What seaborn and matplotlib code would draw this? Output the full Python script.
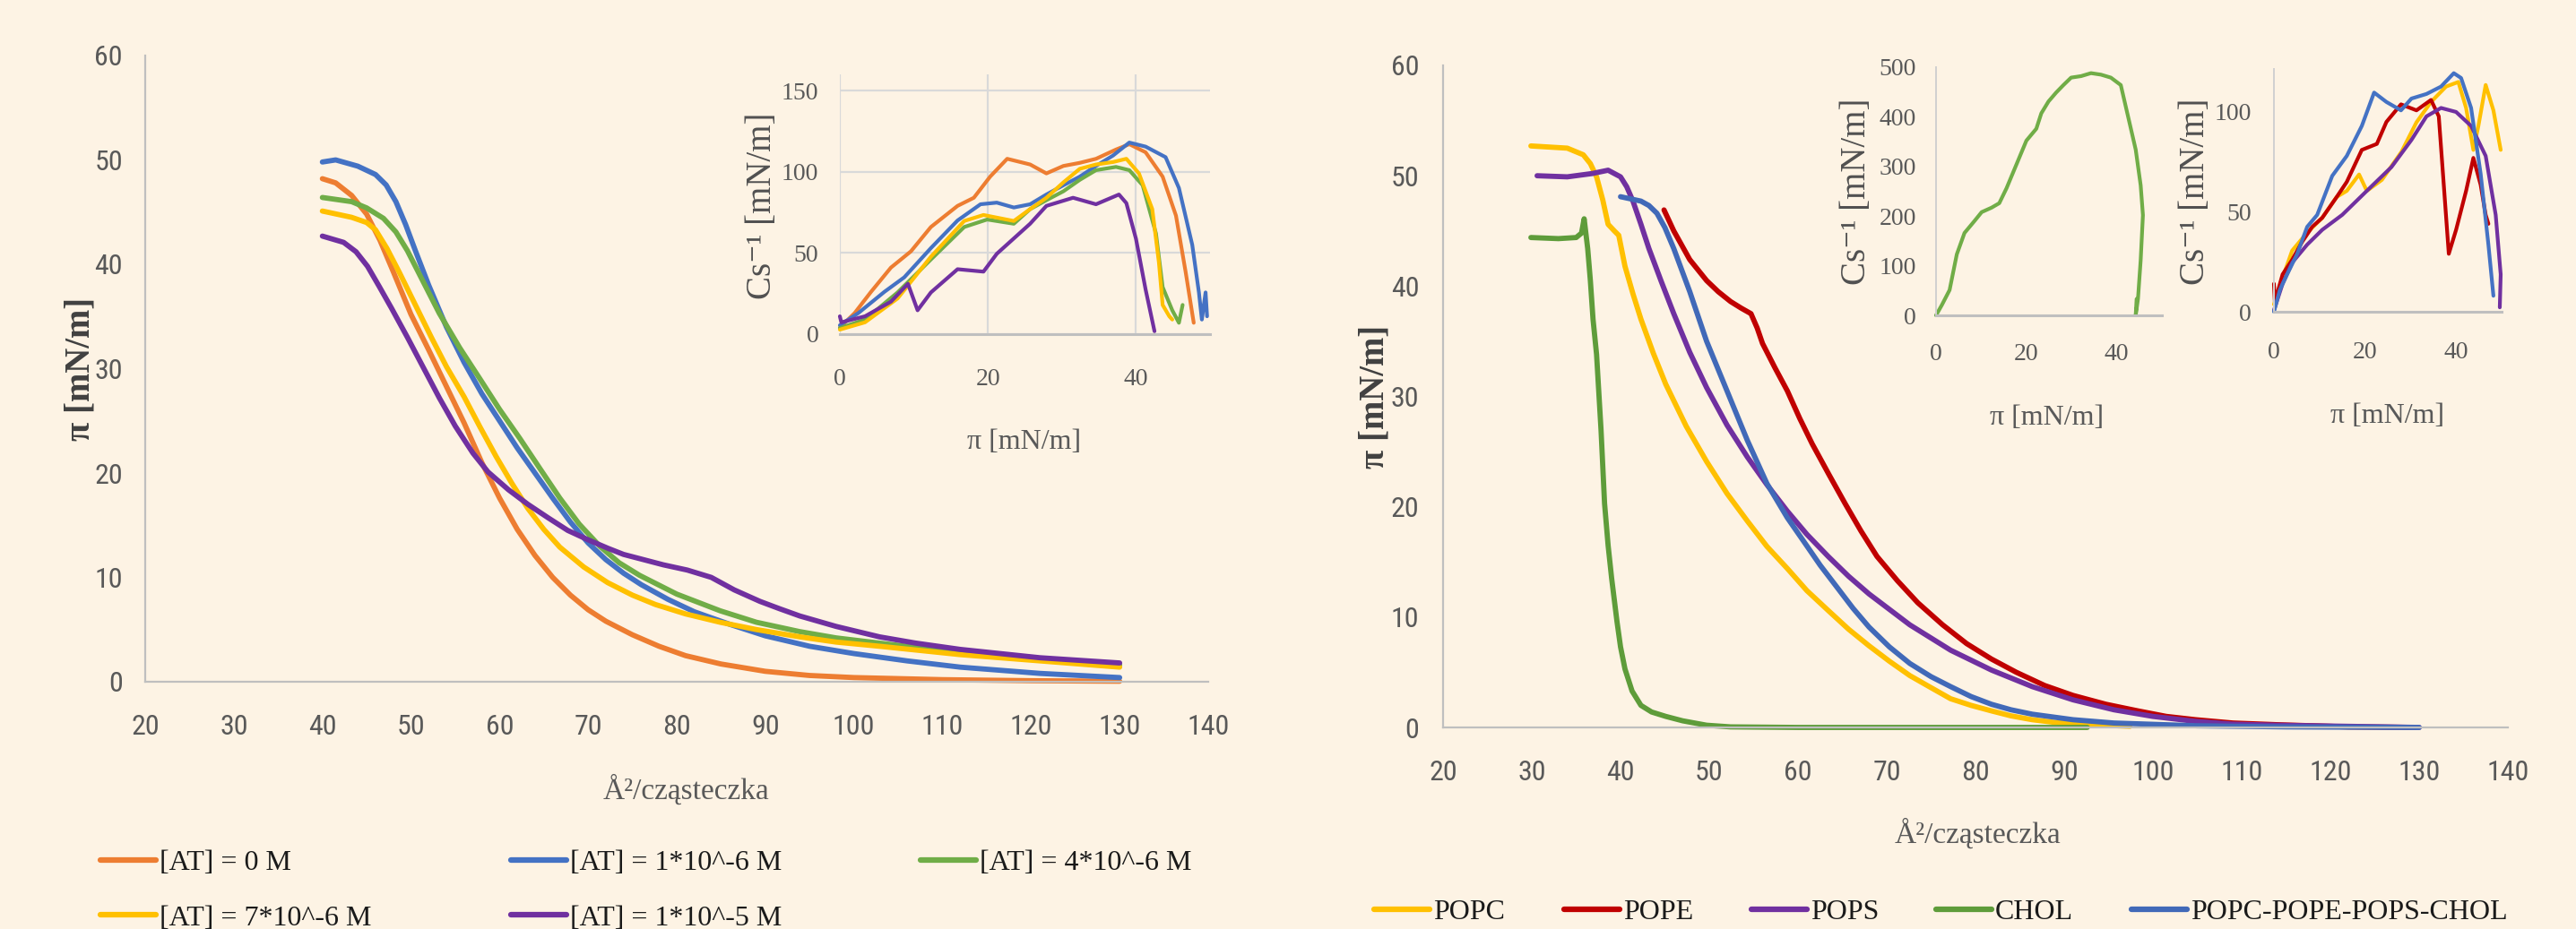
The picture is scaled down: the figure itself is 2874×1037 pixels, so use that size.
import matplotlib
matplotlib.use("Agg")
import matplotlib.pyplot as plt
import numpy as np
import pandas as pd
import seaborn as sns
from matplotlib.lines import Line2D
from matplotlib import font_manager as fm

# ---------------- DATA ----------------
# Left main: pi-A isotherms, AT concentration series
at_labels = ["[AT] = 0 M", "[AT] = 1*10^-6 M", "[AT] = 4*10^-6 M",
             "[AT] = 7*10^-6 M", "[AT] = 1*10^-5 M"]
at_colors = ["#ED7D31", "#4472C4", "#70AD47", "#FFC000", "#7030A0"]

at0_A = [40, 41.5, 43.3, 45, 46.5, 48, 50, 52, 54, 56, 58, 60, 62, 64, 66, 68, 70, 72, 75, 78, 81, 85, 90, 95, 100, 110, 120, 130]
at0_P = [48.2, 47.8, 46.6, 44.8, 42.3, 39.3, 35.2, 31.8, 28.3, 24.8, 21.0, 17.6, 14.6, 12.1, 10.0, 8.3, 6.9, 5.8, 4.5, 3.4, 2.5, 1.7, 1.0, 0.6, 0.4, 0.2, 0.1, 0.05]
at1_A = [40, 41.5, 44, 46, 47.2, 48.3, 49.4, 50.5, 52, 54, 56, 58, 60, 62, 64, 66, 68, 70, 72, 74, 76, 79, 82, 86, 90, 95, 100, 106, 112, 121, 130]
at1_P = [49.8, 50.0, 49.4, 48.6, 47.6, 46.0, 43.8, 41.3, 38.0, 34.0, 30.6, 27.6, 25.0, 22.4, 20.0, 17.6, 15.3, 13.3, 11.7, 10.4, 9.3, 7.9, 6.7, 5.5, 4.4, 3.4, 2.7, 2.0, 1.4, 0.8, 0.4]
at4_A = [40, 43.3, 45, 46.9, 48.3, 49.6, 51.4, 53.2, 55.5, 57.8, 60, 62.3, 64.5, 66.8, 69, 71.3, 73.5, 75.8, 80, 84.9, 89, 93.9, 98, 102.9, 112, 121, 130]
at4_P = [46.4, 46.0, 45.4, 44.4, 43.1, 41.3, 38.3, 35.3, 32.0, 29.0, 26.1, 23.3, 20.5, 17.6, 15.1, 13.0, 11.4, 10.2, 8.4, 6.8, 5.7, 4.8, 4.2, 3.7, 2.8, 2.1, 1.6]
at7_A = [40, 43.3, 45, 46, 47.3, 48.7, 50.5, 52.3, 54, 56, 57.8, 59.6, 61.4, 63.2, 65, 66.8, 69.5, 72.2, 75, 77.6, 81, 84.9, 89, 93.9, 98, 102.9, 112, 121, 130]
at7_P = [45.1, 44.5, 44.0, 43.3, 41.5, 39.2, 36.1, 33.0, 30.2, 27.3, 24.4, 21.6, 19.0, 16.6, 14.6, 12.9, 11.0, 9.5, 8.3, 7.4, 6.5, 5.7, 5.0, 4.3, 3.8, 3.4, 2.6, 2.0, 1.4]
at10_A = [40, 42.4, 43.8, 45.1, 46.4, 47.8, 49.6, 51.4, 53.2, 55, 57, 58.7, 61, 63.2, 65.5, 67.7, 70, 72.2, 74, 75.8, 78.5, 81.2, 83.9, 86.5, 89.4, 91.6, 93.9, 98, 102.9, 107, 112, 121, 130]
at10_P = [42.7, 42.1, 41.2, 39.8, 37.9, 35.8, 33.0, 30.1, 27.2, 24.5, 21.9, 20.1, 18.4, 17.0, 15.7, 14.5, 13.6, 12.8, 12.2, 11.8, 11.2, 10.7, 10.0, 8.8, 7.7, 7.0, 6.3, 5.3, 4.3, 3.7, 3.1, 2.3, 1.8]

# Left inset: compressibility modulus vs pi
at0_pi = [0, 2, 4.2, 6.9, 9.6, 12.3, 15.9, 18.1, 20.3, 22.6, 25.7, 27.9, 30.2, 32.4, 34.6, 37.3, 39.1, 41.3, 43.6, 45.4, 46.7, 47.8]
at0_cs = [4, 13, 26, 41, 51, 66, 79, 84, 97, 108, 104.5, 99, 103.6, 105.5, 108, 113.7, 117, 112, 97, 73, 38.5, 7]
at1_pi = [0, 2.5, 6, 8.7, 12.3, 15.9, 19, 21.2, 23.5, 25.7, 27.9, 30.2, 32.4, 34.6, 36.9, 39.1, 41.3, 44, 45.8, 47.6, 48.5, 48.9, 49.4, 49.6]
at1_cs = [5.5, 13, 26, 35, 53, 70, 80, 81, 78, 80, 86, 91.7, 97, 103.6, 110, 118, 115.5, 109, 90, 55, 25.7, 9, 25.7, 11]
at4_pi = [0, 3.4, 7.8, 12.3, 16.8, 19.9, 23.5, 25.7, 27.9, 30.2, 32.4, 34.6, 37.3, 39.1, 40.9, 42.7, 43.6, 44.9, 45.8, 46.3]
at4_cs = [3.7, 9, 25.7, 46, 66, 70.6, 68, 77, 82.5, 88, 95, 101, 103, 101, 91.7, 62, 29, 14.7, 7, 18]
at7_pi = [0, 3.4, 7.8, 12.3, 16.8, 19.4, 23.5, 25.7, 27.9, 30.2, 32.4, 34.6, 36.9, 38.7, 40.4, 42.2, 43.1, 43.6, 44.5, 44.9]
at7_cs = [2.8, 7.3, 22, 47.7, 69.7, 73.4, 69.7, 77, 84, 93.5, 101.8, 104.5, 106, 108, 99, 77, 44, 18, 11, 9]
at10_pi = [0, 0.2, 3.4, 6.9, 9.2, 10.5, 12.3, 15.9, 19.4, 21.2, 25.7, 27.9, 31.5, 34.6, 37.7, 38.7, 40, 41.3, 42.5]
at10_cs = [11, 7.3, 11, 20, 31, 14.7, 25.7, 40, 38.5, 49.5, 68, 79, 84, 80, 86, 80.7, 58.7, 27.5, 1.8]

# Right main: lipid isotherms
lip_labels = ["POPC", "POPE", "POPS", "CHOL", "POPC-POPE-POPS-CHOL"]
lip_colors = ["#FFC000", "#C00000", "#7030A0", "#5E9C3A", "#4169B8"]

popc_A = [29.9, 34, 35.8, 36.6, 37.3, 38, 38.6, 39.3, 39.8, 40.5, 41.4, 42.3, 43.7, 45.1, 47.4, 49.7, 52, 54.3, 56.5, 58.8, 61, 63.4, 65.7, 68, 70.3, 72.6, 75, 77.2, 79.5, 81.8, 84, 86.4, 89, 92, 97.4]
popc_P = [52.7, 52.5, 51.9, 51.1, 49.9, 47.8, 45.6, 45.0, 44.6, 41.8, 39.3, 37.0, 33.9, 31.1, 27.3, 24.1, 21.2, 18.7, 16.4, 14.4, 12.4, 10.6, 8.9, 7.4, 6.0, 4.7, 3.6, 2.6, 2.0, 1.5, 1.05, 0.7, 0.45, 0.3, 0.1]
pope_A = [44.9, 46, 47.8, 49.7, 51, 52.4, 53.6, 54.7, 55.4, 56, 57.4, 58.8, 60.2, 61.6, 63.5, 65.3, 67.1, 68.9, 71.2, 73.5, 76.3, 79, 81.8, 84.6, 87.8, 91, 94.7, 98.3, 101.5, 104.8, 109, 113.9, 122, 129.6]
pope_P = [46.9, 45.0, 42.4, 40.5, 39.5, 38.6, 38.0, 37.5, 36.2, 34.8, 32.6, 30.5, 28.0, 25.7, 22.9, 20.3, 17.8, 15.5, 13.3, 11.3, 9.3, 7.6, 6.2, 5.0, 3.8, 2.9, 2.1, 1.5, 1.0, 0.7, 0.4, 0.25, 0.05, 0.0]
pops_A = [30.6, 34, 36.8, 38.6, 40, 40.7, 41.4, 42.3, 43.2, 44.6, 46, 47.8, 49.7, 52, 54.3, 56.5, 58.8, 61, 63.4, 65.7, 68, 70.3, 72.6, 75, 77.2, 81.8, 86.4, 91, 95.6, 100, 104.8, 109, 113.9, 122, 130]
pops_P = [50.0, 49.9, 50.2, 50.5, 49.9, 49.0, 47.7, 45.6, 43.4, 40.4, 37.5, 34.0, 30.8, 27.4, 24.5, 22.0, 19.6, 17.5, 15.5, 13.7, 12.1, 10.7, 9.3, 8.1, 7.0, 5.2, 3.7, 2.5, 1.6, 1.0, 0.55, 0.3, 0.2, 0.1, 0.0]
chol_A = [29.9, 33, 35, 35.6, 35.9, 36.3, 36.6, 36.9, 37.3, 37.8, 38.2, 38.6, 39.0, 39.6, 40.0, 40.5, 41.3, 42.3, 43.5, 45.1, 47, 49.7, 52.4, 60, 70, 80, 92.6]
chol_P = [44.4, 44.3, 44.4, 44.8, 46.1, 43.4, 40.5, 37.0, 33.8, 27.0, 20.3, 16.5, 13.5, 9.6, 7.3, 5.3, 3.3, 2.0, 1.4, 1.0, 0.6, 0.2, 0.05, 0.0, 0.0, 0.0, 0.0]
mix_A = [40, 42.3, 43.2, 44.1, 45, 46, 47.8, 49.7, 52, 54.3, 56.5, 58.8, 60.7, 62.5, 64.4, 66.2, 68, 70.3, 72.6, 75, 77.2, 79.5, 81.8, 84, 86.4, 91, 95.6, 105, 115, 130]
mix_P = [48.1, 47.7, 47.3, 46.6, 45.3, 43.4, 39.5, 35.0, 30.5, 26.0, 22.1, 19.0, 16.8, 14.7, 12.7, 10.8, 9.1, 7.3, 5.8, 4.6, 3.7, 2.8, 2.1, 1.6, 1.2, 0.7, 0.4, 0.15, 0.05, 0.0]

# Right inset 1: CHOL compressibility
chol_pi = [0, 1.3, 3, 4.6, 6.3, 8.5, 10.1, 12.3, 14, 15.6, 17.8, 20, 22.2, 23.3, 24.9, 26.6, 28.2, 29.9, 32.1, 34.3, 36.5, 38.7, 40.9, 42.5, 44.2, 45.3, 45.8, 45.3, 44.7, 44.2, 44.4]
chol_cs = [0, 21, 51, 123, 166, 190, 208, 217, 226, 256, 304, 352, 376, 407, 431, 449, 464, 479, 482, 488, 485, 479, 464, 401, 334, 262, 202, 111, 33, 0, 33]

# Right inset 2: phospholipid compressibility
popc_pi = [0, 1.9, 4, 7.3, 10.6, 13.8, 16, 18.7, 20.4, 23.7, 28, 31.3, 34.5, 37.8, 40.5, 42.2, 43.8, 44.9, 46.5, 48.2, 49.8]
popc_cs = [3.7, 17, 30.6, 39.6, 47, 57.5, 60.5, 68.7, 60.5, 66, 80, 94.8, 105, 112.7, 115, 102, 81, 93, 113.5, 100.8, 81]
pope_pi = [0, 0.2, 1.9, 4, 6.2, 8.4, 10.6, 13.8, 16, 19.3, 22.6, 24.7, 27.9, 31.3, 34.5, 36.2, 37.3, 38.4, 40, 42.2, 43.8, 45.4, 46.5, 47.1]
pope_cs = [14, 5, 18.7, 26, 35, 42.5, 47, 57.5, 65, 81, 84, 95, 103.8, 100.8, 106, 97.8, 63.5, 29, 41, 60.5, 77, 63.5, 48.5, 44]
pops_pi = [0, 1.9, 4, 7.3, 10.6, 15, 20.4, 25.8, 30.2, 33.5, 36.7, 40, 43.3, 46.5, 48.7, 49.8, 49.6]
pops_cs = [0.7, 14, 24.6, 33.6, 41, 48.5, 60.5, 72.4, 86, 97.8, 102, 100, 93, 78, 48.5, 18.7, 2.2]
mix_pi = [0, 1.3, 2.9, 5.1, 7.3, 9.5, 12.8, 16, 19.3, 22, 24.7, 27.9, 30.2, 33.5, 36.7, 39.5, 41.1, 43.3, 45.4, 47.1, 48.2]
mix_cs = [0, 11, 18.7, 29, 42.5, 48.5, 68, 78, 93, 109.7, 105, 100.8, 106.7, 109, 112.7, 119.4, 117, 102, 69, 33.6, 8]

# ---------------- STYLE ----------------
sns.set_theme(style="white")
BG = "#FDF3E4"
GREY_TXT = "#595959"
AXIS_C = "#BFBFBF"

def has_font(name):
    try:
        fm.findfont(fm.FontProperties(family=name), fallback_to_default=False)
        return True
    except Exception:
        return False

TICK_FAM, TICK_SIZE = ["Roboto", "DejaVu Sans"], 21
for cand, sz in [("Liberation Sans Narrow", 23), ("Roboto Condensed", 23)]:
    if has_font(cand):
        TICK_FAM, TICK_SIZE = [cand, "DejaVu Sans"], sz
        break
SERIF = ["Liberation Serif", "DejaVu Serif"]
plt.rcParams["font.family"] = SERIF

W, H = 2874, 1037
fig = plt.figure(figsize=(W / 100, H / 100), dpi=100)
fig.patch.set_facecolor(BG)


def axes_px(x0, y0, x1, y1):
    ax = fig.add_axes([x0 / W, 1 - y1 / H, (x1 - x0) / W, (y1 - y0) / H])
    ax.set_facecolor("none")
    return ax


def long_df(xs, ys, labels):
    frames = []
    for x, y, lab in zip(xs, ys, labels):
        frames.append(pd.DataFrame({"x": x, "y": y, "series": lab}))
    return pd.concat(frames, ignore_index=True)


def draw(ax, df, labels, colors, lw):
    sns.lineplot(data=df, x="x", y="y", hue="series", hue_order=labels,
                 palette=dict(zip(labels, colors)), sort=False, estimator=None,
                 linewidth=lw, solid_capstyle="round", solid_joinstyle="round",
                 clip_on=False, legend=False, ax=ax)
    ax.set_xlabel("")
    ax.set_ylabel("")


def style_main(ax, xpad, ypad):
    for s in ["top", "right"]:
        ax.spines[s].set_visible(False)
    for s in ["left", "bottom"]:
        ax.spines[s].set_color(AXIS_C)
        ax.spines[s].set_linewidth(1.6)
    ax.set_xlim(20, 140)
    ax.set_ylim(0, 60)
    ax.set_xticks(np.arange(20, 141, 10))
    ax.set_yticks(np.arange(0, 61, 10))
    ax.tick_params(axis="both", length=0, colors=GREY_TXT)
    ax.tick_params(axis="x", pad=xpad)
    ax.tick_params(axis="y", pad=ypad)
    for t in ax.get_xticklabels() + ax.get_yticklabels():
        t.set_family(TICK_FAM)
        t.set_fontsize(TICK_SIZE)
        t.set_color(GREY_TXT)


def style_inset(ax, ylim, yticks, grid, xpad, ypad):
    ax.set_xlim(0, 50)
    ax.set_ylim(*ylim)
    ax.set_xticks([0, 20, 40])
    ax.set_yticks(yticks)
    for s in ["top", "right"]:
        ax.spines[s].set_visible(False)
    ax.spines["bottom"].set_color(AXIS_C)
    ax.spines["bottom"].set_linewidth(2.2)
    if grid:
        ax.spines["left"].set_visible(False)
        ax.grid(True, color="#D9D9D9", linewidth=1.6)
        ax.set_axisbelow(True)
    else:
        ax.spines["left"].set_color("#D0D0D0")
        ax.spines["left"].set_linewidth(1.4)
        ax.grid(False)
    ax.tick_params(axis="both", length=0, colors=GREY_TXT)
    ax.tick_params(axis="x", pad=xpad)
    ax.tick_params(axis="y", pad=ypad)
    for t in ax.get_xticklabels() + ax.get_yticklabels():
        t.set_family(SERIF)
        t.set_fontsize(20)
        t.set_color(GREY_TXT)


# ---------------- LEFT MAIN ----------------
axL = axes_px(162, 62, 1348, 761)
dfL = long_df([at0_A, at1_A, at4_A, at7_A, at10_A],
              [at0_P, at1_P, at4_P, at7_P, at10_P], at_labels)
draw(axL, dfL, at_labels, at_colors, 4.2)
style_main(axL, 26, 18)
axL.set_xlabel("Å²/cząsteczka", fontsize=24, color=GREY_TXT, family=SERIF, va="center")
axL.xaxis.set_label_coords(0.509, -0.173)
axL.set_ylabel("π [mN/m]", fontsize=28, color="#404040", family=SERIF,
               fontweight="bold", va="center")
axL.yaxis.set_label_coords(-0.0607, 0.5)

# ---------------- LEFT INSET ----------------
axLi = axes_px(937, 83, 1350, 373)
dfLi = long_df([at0_pi, at1_pi, at4_pi, at7_pi, at10_pi],
               [at0_cs, at1_cs, at4_cs, at7_cs, at10_cs], at_labels)
draw(axLi, dfLi, at_labels, at_colors, 3.0)
style_inset(axLi, (0, 160), [0, 50, 100, 150], True, 27, 17)
axLi.set_xlabel("π [mN/m]", fontsize=23, color=GREY_TXT, family=SERIF, va="center")
axLi.xaxis.set_label_coords(0.497, -0.414)
axLi.set_ylabel("Cs⁻¹ [mN/m]", fontsize=28, color="#505050", family=SERIF, va="center")
axLi.yaxis.set_label_coords(-0.21, 0.493)

# ---------------- RIGHT MAIN ----------------
axR = axes_px(1610, 73, 2798, 812)
dfR = long_df([popc_A, pope_A, pops_A, chol_A, mix_A],
              [popc_P, pope_P, pops_P, chol_P, mix_P], lip_labels)
draw(axR, dfR, lip_labels, lip_colors, 4.2)
style_main(axR, 26, 19)
axR.set_xlabel("Å²/cząsteczka", fontsize=24, color=GREY_TXT, family=SERIF, va="center")
axR.xaxis.set_label_coords(0.502, -0.161)
axR.set_ylabel("π [mN/m]", fontsize=28, color="#404040", family=SERIF,
               fontweight="bold", va="center")
axR.yaxis.set_label_coords(-0.064, 0.5)

# ---------------- RIGHT INSET 1 (CHOL) ----------------
axC = axes_px(2160, 75, 2412, 352)
dfC = long_df([chol_pi], [chol_cs], ["CHOL"])
draw(axC, dfC, ["CHOL"], ["#70AD47"], 3.0)
style_inset(axC, (0, 500), [0, 100, 200, 300, 400, 500], False, 22, 16)
axC.set_xlabel("π [mN/m]", fontsize=23, color=GREY_TXT, family=SERIF, va="center")
axC.xaxis.set_label_coords(0.49, -0.415)
axC.set_ylabel("Cs⁻¹ [mN/m]", fontsize=28, color="#505050", family=SERIF, va="center")
axC.yaxis.set_label_coords(-0.35, 0.498)

# ---------------- RIGHT INSET 2 ----------------
in2_labels = ["POPC", "POPE", "POPS", "POPC-POPE-POPS-CHOL"]
in2_colors = ["#FFC000", "#C00000", "#7030A0", "#4472C4"]
axP = axes_px(2537, 77, 2791, 348)
dfP = long_df([popc_pi, pope_pi, pops_pi, mix_pi],
              [popc_cs, pope_cs, pops_cs, mix_cs], in2_labels)
draw(axP, dfP, in2_labels, in2_colors, 3.0)
style_inset(axP, (0, 121.5), [0, 50, 100], False, 24, 18)
axP.set_xlabel("π [mN/m]", fontsize=23, color=GREY_TXT, family=SERIF, va="center")
axP.xaxis.set_label_coords(0.5, -0.43)
axP.set_ylabel("Cs⁻¹ [mN/m]", fontsize=28, color="#505050", family=SERIF, va="center")
axP.yaxis.set_label_coords(-0.346, 0.494)

# ---------------- LEGENDS ----------------
def put_entry(label, color, x_px, y_px, size=23):
    h = Line2D([], [], color=color, lw=4.5, solid_capstyle="round")
    leg = fig.legend([h], [label], loc="center left",
                     bbox_to_anchor=(x_px / W, 1 - y_px / H),
                     frameon=False, borderpad=0, borderaxespad=0,
                     handlelength=62 / (size * 100 / 72), handletextpad=0.13,
                     prop=fm.FontProperties(family=SERIF, size=size))
    for t in leg.get_texts():
        t.set_color("#1a1a1a")
    return leg

left_pos = [(112, 963), (570, 963), (1027, 963), (112, 1025), (570, 1025)]
for lab, col, (px, py) in zip(at_labels, at_colors, left_pos):
    put_entry(lab, col, px, py)

right_pos = [(1533, 1018), (1745, 1018), (1954, 1018), (2160, 1018), (2378, 1018)]
for lab, col, (px, py) in zip(lip_labels, lip_colors, right_pos):
    put_entry(lab, col, px, py)

fig.savefig("out.png", dpi=100, facecolor=BG)
